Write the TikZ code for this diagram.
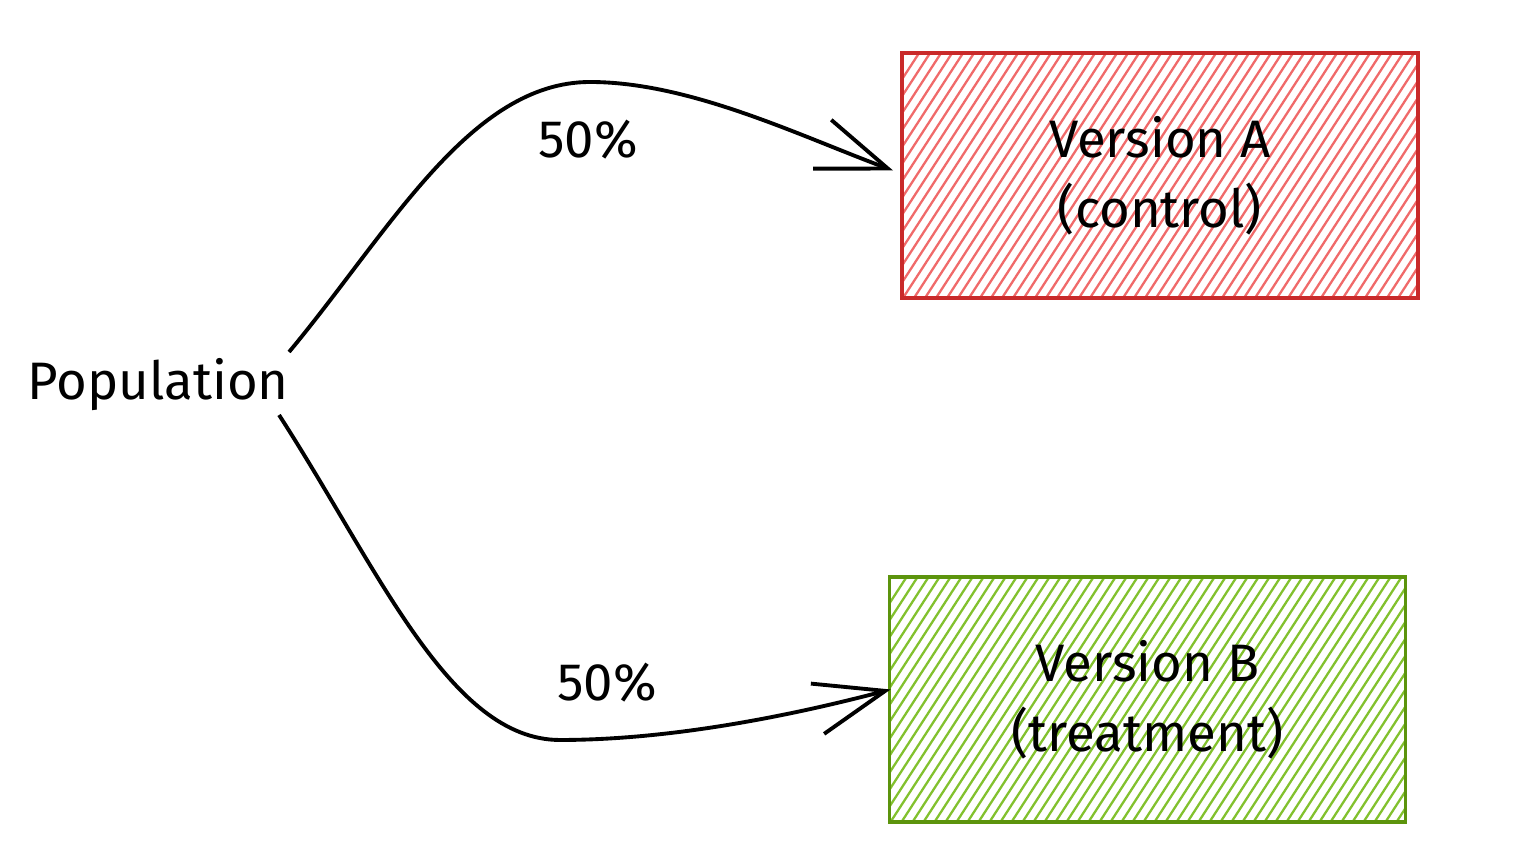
\documentclass[tikz,border=0pt]{standalone}
\usepackage{fontspec}
\setmainfont{Fira Sans}
\usepackage{tikz}
\usetikzlibrary{arrows.meta}
\usetikzlibrary{calc}
\usetikzlibrary{positioning}

\definecolor{redline}{HTML}{C92A2A}
\definecolor{redhatch}{HTML}{F06A6A}
\definecolor{greenline}{HTML}{5C940D}
\definecolor{greenhatch}{HTML}{82C12E}

\begin{document}
\begin{tikzpicture}[
    every node/.style={font=\fontsize{15}{20}\selectfont},
    hatch/.style={path picture={
        \foreach \k in {-4,-3.89,...,3.2}
          \draw[#1, line width=0.65pt] ([xshift=\k cm]path picture bounding box.south) -- ++(57:3.2);}},
    version/.style={draw=#1line, line width=1.1pt, minimum width=5.16cm, minimum height=2.45cm,
        align=center, hatch=#1hatch},
    split/.style={line width=1.1pt, -{Straight Barb[length=7mm, width=5.2mm, line width=1.1pt]}}
  ]
      \path[use as bounding box] (0, 0) rectangle (15.14, 8.46);

      \node (pop) at (1.58, 4.61) {Population};

      \node[version=red] (verA) at (11.60, 6.705) {Version A\\(control)};
      \node[version=green] (verB) at (11.475, 1.465) {Version B\\(treatment)};

      \draw[split] ([shift={(-0.12, 0.33)}]pop.east) .. controls +(1.0, 1.2) and (4.7, 7.64) .. (5.9, 7.64)
          .. controls (6.9, 7.64) and (8.0, 7.1) .. ([shift={(-0.07, 0.05)}]verA.west);
      \draw[split] ([shift={(-0.22, -0.30)}]pop.east) .. controls +(1.0, -1.55) and (4.5, 1.06) .. (5.6, 1.06)
          .. controls (6.7, 1.06) and (7.9, 1.30) .. ([shift={(0.03, 0.10)}]verB.west);

      \node (pctA) at (5.88, 7.06) {50\%};
      \node (pctB) at (6.07, 1.63) {50\%};
    \end{tikzpicture}
\end{document}
